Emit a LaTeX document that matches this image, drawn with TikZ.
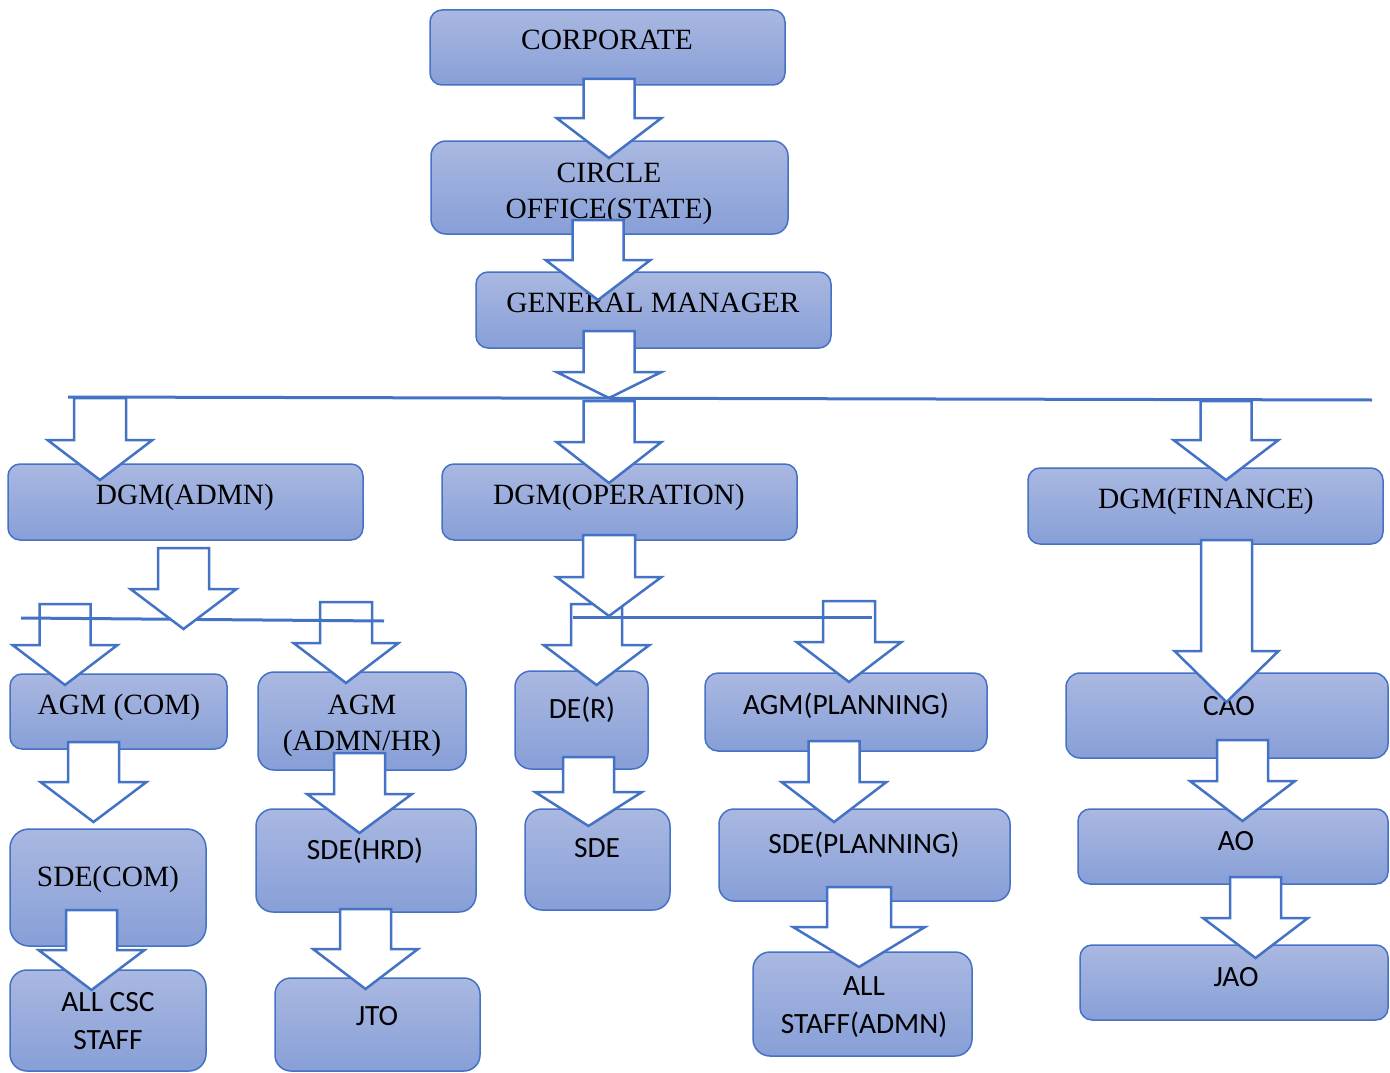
\documentclass[tikz,border=0pt]{standalone}
\usepackage{fontspec}
\newfontfamily\tnr{Liberation Serif}
\newfontfamily\calib{Carlito}
\definecolor{obl}{RGB}{68,114,196}
\definecolor{gtop}{RGB}{170,184,225}
\definecolor{gbot}{RGB}{135,159,215}
\tikzset{
  boxsty/.style={draw=obl, line width=1.5pt, top color=gtop, bottom color=gbot, inner sep=0pt},
  ser/.style={font=\tnr\fontsize{29.4}{36}\selectfont, anchor=base, align=center, inner sep=0pt},
  cal/.style={font=\calib\fontsize{29.4}{38}\selectfont, anchor=base, align=center, inner sep=0pt},
  barrowsty/.style={draw=obl, line width=2.5pt, fill=white, line join=miter},
  hline/.style={draw=obl, line width=3pt}
}
% name, left, top, right, bottom, corner radius
\newcommand{\mkbox}[6]{%
  \node[boxsty, rounded corners=#6pt, minimum width={(#4-#2)*1pt}, minimum height={(#5-#3)*1pt}]
    (#1) at ({(#2+#4)/2},{(#3+#5)/2}) {};}
% name, cx, top, head base, tip, shaft half width, head half width
\newcommand{\barrow}[7]{%
  \draw[barrowsty] ({#2-#6},#3) coordinate (#1) -- ({#2+#6},#3) -- ({#2+#6},#4) -- ({#2+#7},#4)
    -- (#2,#5) -- ({#2-#7},#4) -- ({#2-#6},#4) -- cycle;}
\begin{document}
\begin{tikzpicture}[x=1pt,y=-1pt]
\useasboundingbox (0,0) rectangle (1390,1073);
\clip (0,0) rectangle (1390,1073);
% boxes
\mkbox{corp}{430}{10}{785}{85}{12}
\mkbox{circ}{431}{141}{788}{234}{15}
\mkbox{gm}{476}{272}{831}{348}{12}
\mkbox{dgma}{8}{464}{363}{540}{12}
\mkbox{dgmo}{442}{464}{797}{540}{12}
\mkbox{dgmf}{1028}{468}{1383}{544}{12}
\mkbox{agmc}{10}{674}{227}{749}{12}
\mkbox{agmh}{258}{672}{466}{770}{16}
\mkbox{der}{515}{671}{648}{769}{16}
\mkbox{agmp}{705}{673}{987}{751}{13}
\mkbox{sdec}{10}{829}{206}{946}{19}
\mkbox{sdeh}{256}{809}{476}{912}{17}
\mkbox{sde}{525}{809}{670}{910}{17}
\mkbox{sdep}{719}{809}{1010}{901}{15}
\mkbox{alls}{753}{952}{972}{1056}{17}
\mkbox{cao}{1066}{673}{1388}{758}{14}
\mkbox{ao}{1078}{809}{1388}{884}{12}
\mkbox{jao}{1080}{945}{1388}{1020}{12}
\mkbox{allc}{10}{970}{206}{1071}{17}
\mkbox{jto}{275}{978}{480}{1071}{16}
% texts (multi-line nodes are placed by the baseline of their last line)
\node[ser] (tcorp) at (607,50) {CORPORATE};
\node[ser] (tcirc) at (609,218) {CIRCLE\\OFFICE(STATE)};
\node[ser] (tgm) at (653,312) {GENERAL MANAGER};
\node[ser] (tdgma) at (185,504) {DGM(ADMN)};
\node[ser] (tdgmo) at (619,504) {DGM(OPERATION)};
\node[ser] (tdgmf) at (1206,508) {DGM(FINANCE)};
\node[ser] (tagmc) at (119,714) {AGM (COM)};
\node[ser] (tagmh) at (362,750) {AGM\\(ADMN/HR)};
\node[cal] (tder) at (582,718) {DE(R)};
\node[cal] (tagmp) at (846,714) {AGM(PLANNING)};
\node[ser] (tsdec) at (108,886) {SDE(COM)};
\node[cal] (tallc) at (108,1049) {ALL CSC\\STAFF};
\node[cal] (tsdeh) at (365,859) {SDE(HRD)};
\node[cal] (tjto) at (377,1025) {JTO};
\node[cal] (tsde) at (597,857) {SDE};
\node[cal] (tsdep) at (864,853) {SDE(PLANNING)};
\node[cal] (talls) at (864,1033) {ALL\\STAFF(ADMN)};
\node[cal] (tcao) at (1229,715) {CAO};
\node[cal] (tao) at (1236,850) {AO};
\node[cal] (tjao) at (1236,986) {JAO};
% block arrows
\barrow{a1}{609}{79}{118}{158}{25.5}{52.5}
\barrow{a2}{598}{220}{260}{300}{25.5}{52.5}
\barrow{a3}{609}{331}{372}{398}{25.5}{52.5}
\barrow{a4}{100}{398}{440}{480}{26}{52.5}
\barrow{a5}{609}{401}{442}{483}{25.5}{52.5}
\barrow{a6}{1226}{401}{440}{480}{25.5}{52.5}
\coordinate (l1a) at (68,397);
\coordinate (l1b) at (1372,400);
\draw[hline] (l1a) -- (l1b);
\barrow{a8}{65}{604}{645}{685}{25.5}{52.5}
\barrow{a9}{346}{602}{643}{683}{26}{52.5}
\coordinate (l2a) at (21,618);
\coordinate (l2b) at (384,621);
\draw[hline] (l2a) -- (l2b);
\barrow{a7}{183.5}{548}{589}{629}{25.5}{53}
\barrow{a11}{596.5}{604}{645}{685}{25.5}{53}
\barrow{a12}{849}{601}{642}{682}{26}{52.5}
\coordinate (l3a) at (573,617);
\coordinate (l3b) at (872,617);
\draw[hline] (l3a) -- (l3b);
\barrow{a10}{609}{535}{577}{616}{26}{52.5}
\barrow{a13}{588.5}{757}{792}{826}{25.5}{53.5}
\barrow{a14}{834}{741}{782}{822}{25.5}{52.5}
\barrow{a15}{859}{887}{927}{967}{32}{66}
\barrow{a16}{1226.5}{540}{651}{702}{25.5}{52}
\barrow{a17}{1242.5}{740}{781}{821}{25.5}{52.5}
\barrow{a18}{1255.5}{877}{918}{958}{25.5}{52.5}
\barrow{a19}{93.5}{742}{782}{822}{25.5}{53}
\barrow{a20}{91.5}{910}{950}{990}{25.5}{53}
\barrow{a21}{359.5}{753}{794}{833}{25.5}{52.5}
\barrow{a22}{365.5}{909}{949}{989}{25.5}{52.5}
\end{tikzpicture}
\end{document}
